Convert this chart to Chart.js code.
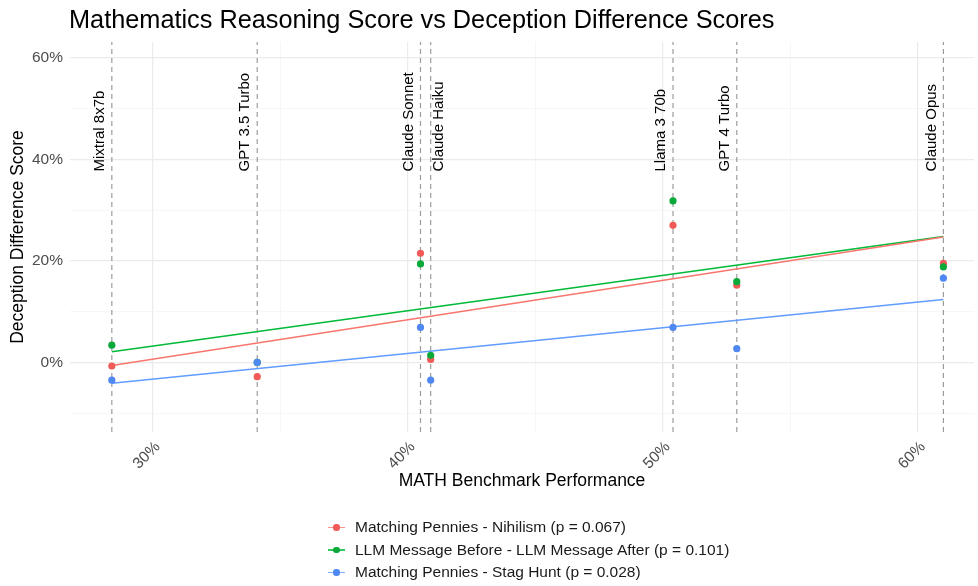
<!DOCTYPE html>
<html>
<head>
<meta charset="utf-8">
<title>Mathematics Reasoning Score vs Deception Difference Scores</title>
<script src="https://cdn.jsdelivr.net/npm/chart.js@4.4.1/dist/chart.umd.min.js"></script>
<style>
    html, body { margin: 0; padding: 0; background: #fff; }
    #wrap { position: relative; width: 978px; height: 586px; font-family: "Liberation Sans", Arial, sans-serif; }
    #chart { position: absolute; left: 0; top: 0; }
    #legend { position: absolute; left: 328px; top: 516px; }
    .item { height: 22.5px; display: flex; align-items: center; font-size: 15.5px; color: #1a1a1a; }
    .key { position: relative; width: 17px; height: 22.5px; margin-right: 10px; }
    .key .ln { position: absolute; left: 0; top: 10.5px; width: 17px; height: 1.5px; opacity: 0.8; }
    .key .dot { position: absolute; left: 5px; top: 8px; width: 6.5px; height: 6.5px; border-radius: 50%; }
</style>
</head>
<body>
<div id="wrap">
    <canvas id="chart" width="978" height="586"></canvas>
    <div id="legend"></div>
</div>
<script>
// Modelos e desempenho no MATH (%)
const models = ['Mixtral 8x7b', 'GPT 3.5 Turbo', 'Claude Sonnet', 'Claude Haiku', 'Llama 3 70b', 'GPT 4 Turbo', 'Claude Opus'];
const mathScores = [28.4, 34.1, 40.5, 40.9, 50.4, 52.9, 61.0];

// Diferenças de engano (%) por comparação
const nihilism = [-0.7, -2.8, 21.5, 0.6, 27.0, 15.2, 19.5];
const messageBeforeAfter = [3.4, 0.0, 19.4, 1.4, 31.8, 15.9, 18.8];
const stagHunt = [-3.5, 0.0, 6.9, -3.5, 6.9, 2.7, 16.6];

// Rectas de tendência (início e fim)
const trendX = [28.4, 61.0];
const trendNihilism = [-0.6, 24.7];
const trendMessage = [2.1, 24.8];
const trendStag = [-4.1, 12.4];

const seriesNames = [
    'Matching Pennies - Nihilism (p = 0.067)',
    'LLM Message Before - LLM Message After (p = 0.101)',
    'Matching Pennies - Stag Hunt (p = 0.028)'
];

// Limites dos eixos
const xMin = 26.76, xMax = 62.2;
const yMin = -13.7, yMax = 63.1;
const labelY = 37.6;

const FONT = '"Liberation Sans", Arial, sans-serif';
const red = '#F8766D', green = '#00BA38', blue = '#619CFF';
const redPt = '#F05A57', greenPt = '#0BA83A', bluePt = '#4F88F2';

function pts(xs, ys) {
    return xs.map((x, i) => ({ x: x, y: ys[i] }));
}

document.addEventListener('DOMContentLoaded', function() {
    const datasets = [];

    // Pontos (azul por cima)
    [[stagHunt, bluePt, 0], [messageBeforeAfter, greenPt, 1], [nihilism, redPt, 2]].forEach(([ys, c, o]) => {
        datasets.push({
            type: 'scatter',
            data: pts(mathScores, ys),
            backgroundColor: c,
            borderWidth: 0,
            pointRadius: 3.6,
            order: o
        });
    });

    // Rectas de regressão
    [[trendNihilism, red], [trendMessage, green], [trendStag, blue]].forEach(([ys, c]) => {
        datasets.push({
            type: 'line',
            data: pts(trendX, ys),
            borderColor: c,
            borderWidth: 1.6,
            pointRadius: 0,
            fill: false,
            order: 3
        });
    });

    // Linhas verticais tracejadas por modelo
    mathScores.forEach(m => {
        datasets.push({
            type: 'line',
            data: [{ x: m, y: yMin }, { x: m, y: yMax }],
            borderColor: '#9c9c9c',
            borderWidth: 1.2,
            borderDash: [5, 4],
            pointRadius: 0,
            fill: false,
            order: 4
        });
    });

    const textPlugin = {
        id: 'textPlugin',
        afterDraw(chart) {
            const { ctx, chartArea, scales: { x, y } } = chart;
            ctx.save();
            // Título
            ctx.fillStyle = '#000';
            ctx.font = '25.3px ' + FONT;
            ctx.textAlign = 'left';
            ctx.textBaseline = 'alphabetic';
            ctx.fillText('Mathematics Reasoning Score vs Deception Difference Scores', chartArea.left - 1, 28);

            // Nomes dos modelos (rodados)
            ctx.font = '15px ' + FONT;
            ctx.textBaseline = 'middle';
            models.forEach((name, i) => {
                const off = name === 'Claude Haiku' ? 8 : -12;
                ctx.save();
                ctx.translate(x.getPixelForValue(mathScores[i]) + off, y.getPixelForValue(labelY));
                ctx.rotate(-Math.PI / 2);
                ctx.fillText(name, 0, 0);
                ctx.restore();
            });
            ctx.restore();
        }
    };

    const ctx = document.getElementById('chart').getContext('2d');
    new Chart(ctx, {
        type: 'scatter',
        data: { datasets: datasets },
        plugins: [textPlugin],
        options: {
            responsive: false,
            animation: false,
            layout: { padding: { top: 42, right: 2, bottom: 94, left: 0 } },
            plugins: {
                legend: { display: false },
                tooltip: { enabled: false }
            },
            scales: {
                x: {
                    type: 'linear',
                    min: xMin,
                    max: xMax,
                    afterFit: s => { s.height = 60; },
                    border: { display: false },
                    grid: {
                        drawTicks: false,
                        color: c => c.tick.value % 10 === 0 ? '#ebebeb' : '#f3f3f3',
                        lineWidth: c => c.tick.value % 10 === 0 ? 1.2 : 0.7
                    },
                    ticks: {
                        stepSize: 5,
                        includeBounds: false,
                        autoSkip: false,
                        maxRotation: 45,
                        minRotation: 45,
                        padding: 6,
                        labelOffset: 5,
                        color: '#4d4d4d',
                        font: { family: FONT, size: 15.5 },
                        callback: v => v % 10 === 0 ? v + '%' : ''
                    },
                    title: {
                        display: true,
                        text: 'MATH Benchmark Performance',
                        color: '#000',
                        font: { family: FONT, size: 17.5 },
                        padding: { top: 0, bottom: 0 }
                    }
                },
                y: {
                    type: 'linear',
                    min: yMin,
                    max: yMax,
                    afterFit: s => { s.width = 70; },
                    border: { display: false },
                    grid: {
                        drawTicks: false,
                        color: c => c.tick.value % 20 === 0 ? '#ebebeb' : '#f3f3f3',
                        lineWidth: c => c.tick.value % 20 === 0 ? 1.2 : 0.7
                    },
                    ticks: {
                        stepSize: 10,
                        includeBounds: false,
                        padding: 7,
                        color: '#4d4d4d',
                        font: { family: FONT, size: 15.5 },
                        callback: v => v % 20 === 0 ? v + '%' : ''
                    },
                    title: {
                        display: true,
                        text: 'Deception Difference Score',
                        color: '#000',
                        font: { family: FONT, size: 17.5 },
                        padding: { top: 8, bottom: 0 }
                    }
                }
            }
        }
    });

    // Legenda em HTML (itens empilhados)
    const legend = document.getElementById('legend');
    [[red, redPt], [green, greenPt], [blue, bluePt]].forEach(([lc, pc], i) => {
        const item = document.createElement('div');
        item.className = 'item';
        item.innerHTML = '<span class="key"><span class="ln" style="background:' + lc + '"></span>' +
            '<span class="dot" style="background:' + pc + '"></span></span>' + seriesNames[i];
        legend.appendChild(item);
    });
});
</script>
</body>
</html>
